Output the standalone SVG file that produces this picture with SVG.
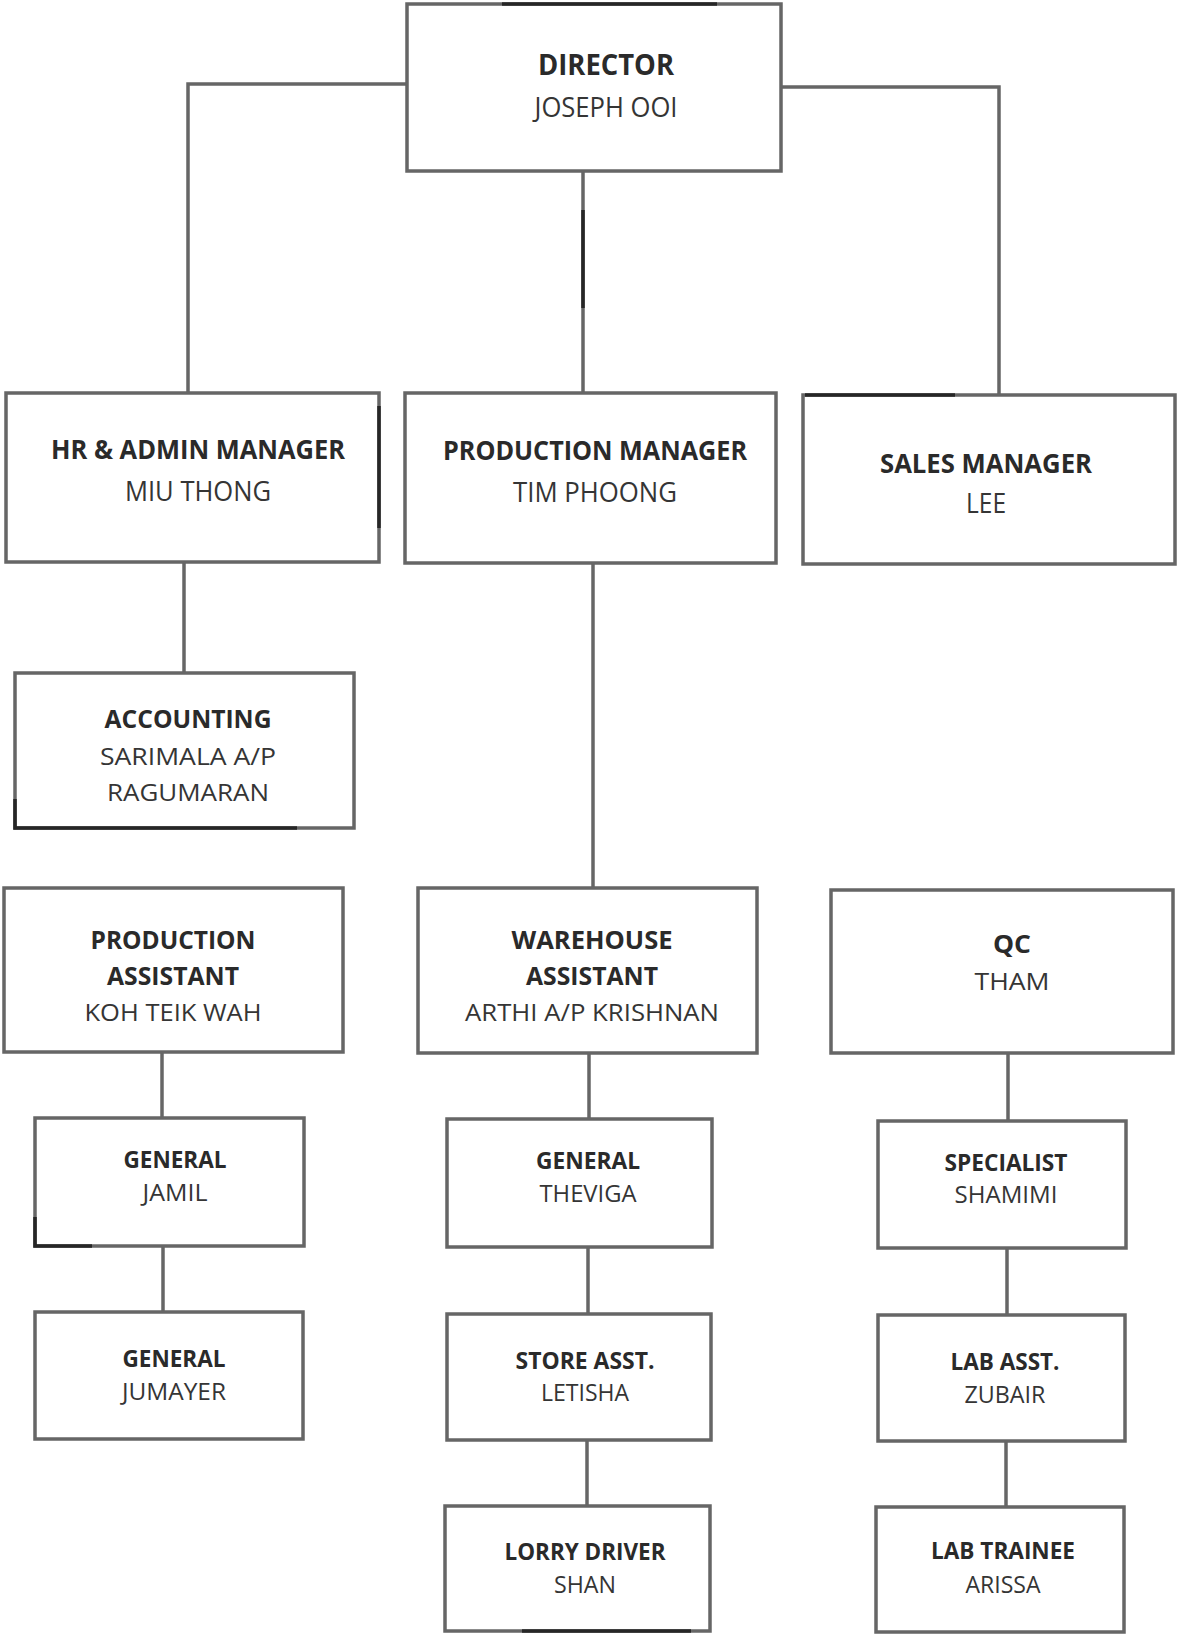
<svg xmlns="http://www.w3.org/2000/svg" width="1177" height="1634" viewBox="0 0 1177 1634">
<style>
.box{fill:#fff;stroke:#666;stroke-width:3.5}
.ln{fill:none;stroke:#666;stroke-width:3.5}
.mk{fill:none;stroke:#262626;stroke-width:3.5}
text{font-family:"Open Sans","Noto Sans","Liberation Sans",sans-serif;text-anchor:middle}
.t{font-weight:bold;fill:#2a2a2a}
.n{font-weight:normal;fill:#353535}
.s1{font-size:28px}.s2{font-size:27px}.s3{font-size:24.5px}.s4{font-size:23px}
</style>
<rect width="1177" height="1634" fill="#fff"/>
<g id="connectors">
<polyline class="ln" points="407,84 188,84 188,393"/>
<polyline class="ln" points="781,87 999,87 999,395"/>
<line class="ln" x1="583" y1="171" x2="583" y2="393"/>
<line class="mk" x1="583" y1="210" x2="583" y2="308"/>
<line class="ln" x1="184" y1="562" x2="184" y2="673"/>
<line class="ln" x1="593" y1="563" x2="593" y2="888"/>
<line class="ln" x1="162" y1="1052" x2="162" y2="1118"/>
<line class="ln" x1="589" y1="1053" x2="589" y2="1119"/>
<line class="ln" x1="1008" y1="1053" x2="1008" y2="1121"/>
<line class="ln" x1="163" y1="1246" x2="163" y2="1312"/>
<line class="ln" x1="588" y1="1247" x2="588" y2="1314"/>
<line class="ln" x1="1007" y1="1248" x2="1007" y2="1315"/>
<line class="ln" x1="587" y1="1440" x2="587" y2="1506"/>
<line class="ln" x1="1006" y1="1441" x2="1006" y2="1507"/>
</g>
<g id="director">
<rect class="box" x="407" y="4" width="374" height="167"/>
<line class="mk" x1="502" y1="4" x2="717" y2="4"/>
<text class="t s1" x="606" y="75" textLength="136" lengthAdjust="spacingAndGlyphs">DIRECTOR</text>
<text class="n s1" x="606" y="117" textLength="143" lengthAdjust="spacingAndGlyphs">JOSEPH OOI</text>
</g>
<g id="hr-admin-manager">
<rect class="box" x="6" y="393" width="373" height="169"/>
<line class="mk" x1="379" y1="406" x2="379" y2="528"/>
<text class="t s2" x="198" y="459" textLength="294" lengthAdjust="spacingAndGlyphs">HR &amp; ADMIN MANAGER</text>
<text class="n s2" x="198" y="501" textLength="146" lengthAdjust="spacingAndGlyphs">MIU THONG</text>
</g>
<g id="production-manager">
<rect class="box" x="405" y="393" width="371" height="170"/>
<text class="t s2" x="595" y="460" textLength="304" lengthAdjust="spacingAndGlyphs">PRODUCTION MANAGER</text>
<text class="n s2" x="595" y="502" textLength="164" lengthAdjust="spacingAndGlyphs">TIM PHOONG</text>
</g>
<g id="sales-manager">
<rect class="box" x="803" y="395" width="372" height="169"/>
<line class="mk" x1="805" y1="395" x2="955" y2="395"/>
<text class="t s2" x="986" y="473" textLength="212" lengthAdjust="spacingAndGlyphs">SALES MANAGER</text>
<text class="n s2" x="986" y="513" textLength="40" lengthAdjust="spacingAndGlyphs">LEE</text>
</g>
<g id="accounting">
<rect class="box" x="15" y="673" width="339" height="155"/>
<polyline class="mk" points="15,799 15,828 297,828"/>
<text class="t s3" x="188" y="728" textLength="167" lengthAdjust="spacingAndGlyphs">ACCOUNTING</text>
<text class="n s3" x="188" y="765" textLength="176" lengthAdjust="spacingAndGlyphs">SARIMALA A/P</text>
<text class="n s3" x="188" y="801" textLength="162" lengthAdjust="spacingAndGlyphs">RAGUMARAN</text>
</g>
<g id="production-assistant">
<rect class="box" x="4" y="888" width="339" height="164"/>
<text class="t s3" x="173" y="949" textLength="165" lengthAdjust="spacingAndGlyphs">PRODUCTION</text>
<text class="t s3" x="173" y="985" textLength="132" lengthAdjust="spacingAndGlyphs">ASSISTANT</text>
<text class="n s3" x="173" y="1021" textLength="177" lengthAdjust="spacingAndGlyphs">KOH TEIK WAH</text>
</g>
<g id="warehouse-assistant">
<rect class="box" x="418" y="888" width="339" height="165"/>
<text class="t s3" x="592" y="949" textLength="161" lengthAdjust="spacingAndGlyphs">WAREHOUSE</text>
<text class="t s3" x="592" y="985" textLength="132" lengthAdjust="spacingAndGlyphs">ASSISTANT</text>
<text class="n s3" x="592" y="1021" textLength="254" lengthAdjust="spacingAndGlyphs">ARTHI A/P KRISHNAN</text>
</g>
<g id="qc">
<rect class="box" x="831" y="890" width="342" height="163"/>
<text class="t s3" x="1012" y="953" textLength="38" lengthAdjust="spacingAndGlyphs">QC</text>
<text class="n s3" x="1012" y="990" textLength="75" lengthAdjust="spacingAndGlyphs">THAM</text>
</g>
<g id="general-jamil">
<rect class="box" x="35" y="1118" width="269" height="128"/>
<polyline class="mk" points="35,1217 35,1246 92,1246"/>
<text class="t s4" x="175" y="1168" textLength="103" lengthAdjust="spacingAndGlyphs">GENERAL</text>
<text class="n s4" x="175" y="1201" textLength="65" lengthAdjust="spacingAndGlyphs">JAMIL</text>
</g>
<g id="general-theviga">
<rect class="box" x="447" y="1119" width="265" height="128"/>
<text class="t s4" x="588" y="1169" textLength="104" lengthAdjust="spacingAndGlyphs">GENERAL</text>
<text class="n s4" x="588" y="1202" textLength="97" lengthAdjust="spacingAndGlyphs">THEVIGA</text>
</g>
<g id="specialist">
<rect class="box" x="878" y="1121" width="248" height="127"/>
<text class="t s4" x="1006" y="1171" textLength="123" lengthAdjust="spacingAndGlyphs">SPECIALIST</text>
<text class="n s4" x="1006" y="1203" textLength="103" lengthAdjust="spacingAndGlyphs">SHAMIMI</text>
</g>
<g id="general-jumayer">
<rect class="box" x="35" y="1312" width="268" height="127"/>
<text class="t s4" x="174" y="1367" textLength="103" lengthAdjust="spacingAndGlyphs">GENERAL</text>
<text class="n s4" x="174" y="1400" textLength="104" lengthAdjust="spacingAndGlyphs">JUMAYER</text>
</g>
<g id="store-asst">
<rect class="box" x="447" y="1314" width="264" height="126"/>
<text class="t s4" x="585" y="1369" textLength="139" lengthAdjust="spacingAndGlyphs">STORE ASST.</text>
<text class="n s4" x="585" y="1401" textLength="88" lengthAdjust="spacingAndGlyphs">LETISHA</text>
</g>
<g id="lab-asst">
<rect class="box" x="878" y="1315" width="247" height="126"/>
<text class="t s4" x="1005" y="1370" textLength="109" lengthAdjust="spacingAndGlyphs">LAB ASST.</text>
<text class="n s4" x="1005" y="1403" textLength="81" lengthAdjust="spacingAndGlyphs">ZUBAIR</text>
</g>
<g id="lorry-driver">
<rect class="box" x="445" y="1506" width="265" height="125"/>
<line class="mk" x1="522" y1="1631" x2="691" y2="1631"/>
<text class="t s4" x="585" y="1560" textLength="161" lengthAdjust="spacingAndGlyphs">LORRY DRIVER</text>
<text class="n s4" x="585" y="1593" textLength="62" lengthAdjust="spacingAndGlyphs">SHAN</text>
</g>
<g id="lab-trainee">
<rect class="box" x="876" y="1507" width="248" height="125"/>
<text class="t s4" x="1003" y="1559" textLength="144" lengthAdjust="spacingAndGlyphs">LAB TRAINEE</text>
<text class="n s4" x="1003" y="1593" textLength="75" lengthAdjust="spacingAndGlyphs">ARISSA</text>
</g>
</svg>
